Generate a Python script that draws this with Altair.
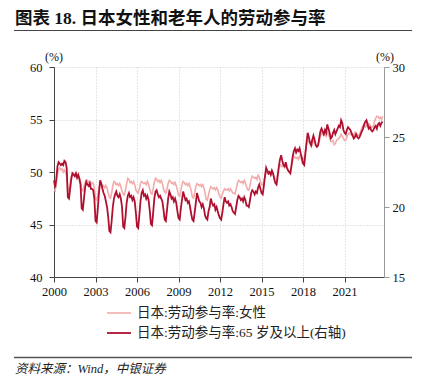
import altair as alt
import pandas as pd

# Japan: female labour force participation rate (%, left axis), monthly 2000-01 .. 2023-10
female = [
    48.3, 48.2, 48.9, 49.8, 50.3, 50.4, 50.2, 50.3, 50.0, 50.2, 50.0, 49.6,  # 2000
    48.3, 48.2, 48.9, 49.6, 49.9, 49.9, 49.7, 49.8, 49.5, 49.7, 49.5, 49.1,  # 2001
    48.3, 48.2, 48.6, 49.0, 49.2, 49.2, 49.0, 49.1, 48.8, 49.0, 48.9, 48.5,  # 2002
    47.4, 47.3, 47.8, 48.5, 48.9, 48.8, 48.6, 48.7, 48.5, 48.7, 48.5, 48.0,  # 2003
    47.6, 47.5, 48.0, 48.7, 49.1, 49.0, 48.8, 48.9, 48.7, 48.9, 48.6, 48.2,  # 2004
    47.9, 47.8, 48.3, 48.9, 49.4, 49.3, 49.0, 49.1, 48.9, 49.1, 48.8, 48.3,  # 2005
    48.1, 48.0, 48.4, 48.9, 49.1, 49.0, 48.9, 49.0, 48.8, 49.1, 48.8, 48.4,  # 2006
    48.0, 47.9, 48.4, 49.0, 49.4, 49.3, 49.1, 49.2, 49.0, 49.2, 48.9, 48.4,  # 2007
    48.1, 48.0, 48.4, 48.9, 49.2, 49.1, 48.9, 49.0, 48.8, 49.0, 48.7, 48.3,  # 2008
    47.8, 47.7, 48.2, 48.8, 49.1, 49.0, 48.8, 48.9, 48.7, 48.9, 48.6, 48.2,  # 2009
    47.6, 47.5, 48.0, 48.6, 48.9, 48.8, 48.7, 48.8, 48.6, 48.8, 48.5, 48.0,  # 2010
    47.4, 47.3, 47.8, 48.3, 48.6, 48.5, 48.4, 48.5, 48.3, 48.5, 48.3, 47.9,  # 2011
    47.6, 47.5, 47.9, 48.2, 48.4, 48.3, 48.3, 48.4, 48.2, 48.4, 48.2, 48.0,  # 2012
    48.0, 47.9, 48.4, 48.9, 49.2, 49.1, 49.0, 49.1, 48.9, 49.2, 49.0, 48.6,  # 2013
    48.3, 48.3, 48.7, 49.3, 49.6, 49.5, 49.4, 49.5, 49.3, 49.7, 49.5, 49.1,  # 2014
    48.8, 48.7, 49.1, 49.6, 50.0, 49.9, 49.8, 49.9, 49.7, 50.0, 49.8, 49.5,  # 2015
    49.3, 49.3, 49.8, 50.4, 50.7, 50.6, 50.5, 50.6, 50.4, 50.7, 50.5, 50.2,  # 2016
    50.1, 50.0, 50.5, 51.1, 51.5, 51.4, 51.3, 51.4, 51.2, 51.5, 51.4, 51.0,  # 2017
    51.3, 51.3, 51.9, 52.6, 53.0, 52.9, 52.7, 52.8, 52.6, 53.0, 52.9, 52.6,  # 2018
    52.4, 52.5, 52.9, 53.4, 53.7, 53.6, 53.5, 53.6, 53.4, 53.8, 53.6, 53.3,  # 2019
    52.9, 52.9, 53.0, 52.6, 52.7, 53.0, 53.1, 53.2, 53.3, 53.6, 53.4, 53.2,  # 2020
    53.0, 53.0, 53.3, 53.6, 53.7, 53.6, 53.5, 53.6, 53.4, 53.8, 53.7, 53.5,  # 2021
    53.5, 53.6, 53.9, 54.2, 54.4, 54.4, 54.3, 54.5, 54.3, 54.6, 54.5, 54.2,  # 2022
    54.3, 54.4, 54.8, 55.1, 55.3, 55.3, 55.1, 55.2, 55.0, 55.3,              # 2023
]

# Japan: labour force participation rate, age 65+ (%, right axis)
elderly = [
    21.9, 21.4, 22.0, 22.9, 23.2, 23.1, 23.0, 23.1, 23.0, 23.3, 23.2, 22.8,  # 2000
    20.7, 20.6, 21.3, 22.0, 22.4, 22.3, 22.2, 22.4, 22.1, 22.3, 22.0, 21.6,  # 2001
    19.9, 19.8, 20.6, 21.4, 21.8, 21.6, 21.5, 21.7, 21.3, 21.3, 21.2, 20.6,  # 2002
    19.0, 18.9, 19.9, 21.0, 21.9, 21.7, 21.3, 21.0, 20.8, 20.4, 20.0, 19.3,  # 2003
    18.3, 18.2, 19.0, 20.0, 20.6, 20.9, 21.1, 20.8, 20.7, 20.9, 20.6, 20.0,  # 2004
    18.6, 18.5, 19.3, 20.3, 20.8, 21.0, 20.7, 20.8, 20.5, 20.7, 20.4, 19.6,  # 2005
    18.6, 18.5, 19.4, 20.4, 21.0, 21.2, 20.8, 20.9, 20.6, 20.8, 20.5, 19.8,  # 2006
    18.8, 18.7, 19.6, 20.6, 21.1, 21.2, 20.9, 20.7, 20.8, 20.6, 20.4, 19.8,  # 2007
    19.1, 19.0, 19.8, 20.6, 21.1, 20.9, 20.6, 20.7, 20.4, 20.6, 20.3, 19.7,  # 2008
    19.2, 19.1, 19.9, 20.5, 21.1, 20.8, 20.5, 20.6, 20.3, 20.4, 20.0, 19.5,  # 2009
    19.1, 19.0, 19.6, 20.3, 21.0, 20.7, 20.4, 20.3, 20.0, 20.2, 19.9, 19.4,  # 2010
    19.2, 19.1, 19.7, 20.0, 20.6, 20.3, 20.1, 20.2, 19.8, 20.0, 19.7, 19.4,  # 2011
    19.2, 19.1, 19.6, 20.2, 20.7, 20.4, 20.3, 20.4, 20.1, 20.2, 20.0, 19.7,  # 2012
    19.6, 19.5, 20.0, 20.5, 20.8, 20.7, 20.5, 20.6, 20.4, 20.7, 20.5, 20.1,  # 2013
    20.1, 20.0, 20.5, 21.0, 21.2, 21.1, 20.9, 21.1, 21.0, 21.4, 21.6, 21.3,  # 2014
    21.0, 20.9, 21.5, 22.2, 22.8, 22.6, 22.4, 22.5, 22.3, 22.6, 22.4, 22.0,  # 2015
    21.7, 21.6, 22.2, 22.9, 23.4, 23.7, 23.3, 23.0, 22.9, 23.2, 22.8, 22.6,  # 2016
    22.5, 22.4, 23.0, 23.6, 24.0, 24.2, 23.9, 24.1, 24.0, 24.2, 23.8, 23.5,  # 2017
    23.1, 23.0, 23.8, 24.6, 25.3, 25.0, 24.6, 24.4, 24.8, 25.1, 24.8, 24.4,  # 2018
    24.3, 24.4, 24.9, 25.4, 25.6, 25.4, 25.2, 25.5, 25.3, 25.9, 25.6, 25.3,  # 2019
    24.9, 25.0, 25.3, 25.5, 25.2, 25.4, 25.6, 25.8, 25.7, 26.2, 26.0, 25.5,  # 2020
    25.3, 25.2, 25.5, 25.7, 25.6, 25.5, 25.3, 25.1, 24.9, 25.0, 25.2, 25.0,  # 2021
    24.9, 25.0, 25.2, 25.4, 25.6, 25.9, 26.1, 26.2, 25.9, 25.6, 25.7, 25.5,  # 2022
    25.4, 25.5, 25.7, 25.8, 25.6, 25.9, 26.0, 25.8, 26.0, 26.1,              # 2023
]

x_ticks = [2000, 2003, 2006, 2009, 2012, 2015, 2018, 2021]
left_ticks = [40, 45, 50, 55, 60]
right_ticks = [15, 20, 25, 30]

title_text = "图表 18. 日本女性和老年人的劳动参与率"
legend_labels = ["日本:劳动参与率:女性", "日本:劳动参与率:65 岁及以上(右轴)"]
source_text = "资料来源：Wind，中银证券"

LIGHT = "#f4abab"
DARK = "#b01030"
SERIF = "Liberation Serif, Noto Sans CJK SC"

months = pd.date_range("2000-01-01", periods=len(female), freq="MS")
df = pd.DataFrame({
    "t": months.year + (months.month - 1) / 12.0,
    "female": female,
    "elderly": elderly,
})

W, H = 330, 210

xenc = alt.X(
    "t:Q",
    scale=alt.Scale(domain=[2000, 2023.85], nice=False, zero=False),
    axis=alt.Axis(values=x_ticks, format="d", title=None, grid=True,
                  gridDash=[1, 2], gridColor="#cccccc", tickSize=5,
                  labelPadding=3, domainColor="#444", tickColor="#444",
                  labelFont=SERIF, labelFontSize=12.5, labelColor="#111",
                  labelFlush=False),
)

base = alt.Chart(df)
light = base.mark_line(color=LIGHT, strokeWidth=1.6).encode(
    x=xenc,
    y=alt.Y("female:Q", scale=alt.Scale(domain=[40, 60], nice=False, zero=False),
            axis=alt.Axis(orient="left", values=left_ticks, title=None, grid=True,
                          gridDash=[1, 2], gridColor="#cccccc", tickSize=5,
                          labelPadding=7, domainColor="#444", tickColor="#444",
                          labelFont=SERIF, labelFontSize=12.5, labelColor="#111")),
)
dark = base.mark_line(color=DARK, strokeWidth=1.8).encode(
    x=xenc,
    y=alt.Y("elderly:Q", scale=alt.Scale(domain=[15, 30], nice=False, zero=False),
            axis=alt.Axis(orient="right", values=right_ticks, title=None, grid=False,
                          tickSize=5, labelPadding=3, domainColor="#999",
                          tickColor="#999", labelFont=SERIF, labelFontSize=12.5,
                          labelColor="#111")),
)

one = pd.DataFrame({"k": [0]})


def text(s, x, y, size, **kw):
    return alt.Chart(one).mark_text(text=s, fontSize=size, **kw).encode(
        x=alt.value(x), y=alt.value(y))


def hrule(x1, x2, y, color, width):
    return alt.Chart(one).mark_rule(color=color, strokeWidth=width).encode(
        x=alt.value(x1), x2=alt.value(x2), y=alt.value(y))


ann = [
    text(title_text, -39, -48, 17.5, align="left", baseline="middle",
         fontWeight="bold", font=SERIF, color="#111"),
    hrule(-40, 358, -36.5, "#444", 1.2),
    text("(%)", 0, -10, 12, align="center", baseline="middle", font=SERIF, color="#111"),
    text("(%)", 331, -10, 12, align="center", baseline="middle", font=SERIF, color="#111"),
    hrule(53, 77, 246, LIGHT, 1.6),
    hrule(53, 77, 266, DARK, 1.8),
    text(legend_labels[0], 83, 246, 13.5, align="left", baseline="middle", font=SERIF, color="#222"),
    text(legend_labels[1], 83, 266, 13.5, align="left", baseline="middle", font=SERIF, color="#222"),
    hrule(-40, 358, 290.5, "#555", 1.5),
    text(source_text, -39, 301.5, 12.5, align="left", baseline="middle", font=SERIF,
         fontStyle="italic", color="#222"),
]

chart = alt.layer(light, dark, *ann).resolve_scale(y="independent").properties(
    width=W, height=H,
    autosize=alt.AutoSizeParams(type="none"),
    padding={"left": 46, "top": 59, "right": 28, "bottom": 97},
).configure_view(stroke=None)

chart.save("out.html", embed_options={"renderer": "svg", "actions": False})
